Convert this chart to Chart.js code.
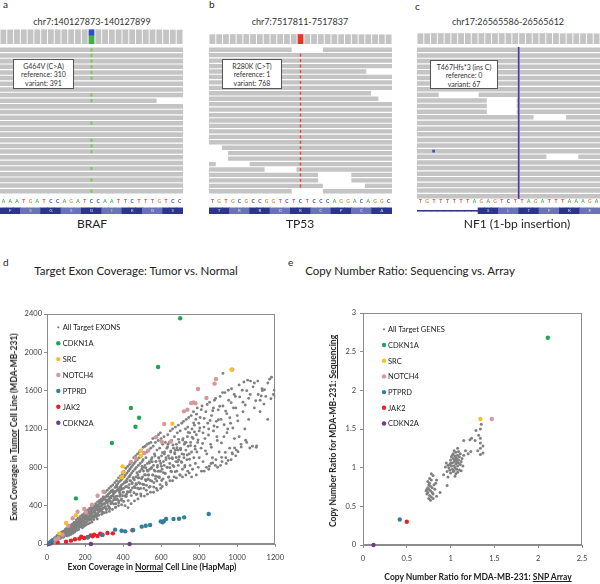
<!DOCTYPE html>
<html>
<head>
<meta charset="utf-8">
<script src="https://cdn.jsdelivr.net/npm/chart.js@4.4.0/dist/chart.umd.min.js"></script>
<style>
  body { margin: 0; width: 600px; height: 584px; position: relative; background: #fff; overflow: hidden;
         font-family: Lato, "Open Sans", sans-serif; color: #222; }
  canvas { position: absolute; display: block; }
  .txt { position: absolute; white-space: nowrap; transform: translate(-50%, -50%); }
  .letter { position: absolute; font-size: 10px; }
  .chr { font-size: 9px; color: #333; }
  .gene { font-size: 12px; }
  .callout { position: absolute; background: #fff; border: 1px solid #555; box-sizing: border-box;
             font-size: 7px; line-height: 8.6px; text-align: center; padding-top: 1.5px; color: #333; }
  .ptitle { font-size: 11.5px; }
  .axt { font-size: 8.5px; font-weight: bold; }
  .rot { transform: translate(-50%, -50%) rotate(-90deg); }
</style>
</head>
<body>

<div class="letter" style="left:3px;top:-2px">a</div>
<div class="letter" style="left:209px;top:-2px">b</div>
<div class="letter" style="left:415px;top:0px">c</div>
<div class="txt chr" style="left:92px;top:21px">chr7:140127873-140127899</div>
<div class="txt chr" style="left:300px;top:21px">chr7:7517811-7517837</div>
<div class="txt chr" style="left:508px;top:21px">chr17:26565586-26565612</div>

<canvas id="covA" width="183" height="15" style="left:0;top:29px"></canvas>
<canvas id="covB" width="183" height="10" style="left:209px;top:34px"></canvas>
<canvas id="covC" width="183" height="11" style="left:417px;top:33px"></canvas>
<canvas id="readsA" width="183" height="147" style="left:0;top:47px"></canvas>
<canvas id="readsB" width="183" height="147" style="left:209px;top:47px"></canvas>
<canvas id="readsC" width="183" height="152" style="left:417px;top:47px"></canvas>
<canvas id="aaA" width="183" height="18" style="left:0;top:196px"></canvas>
<canvas id="aaB" width="183" height="18" style="left:209px;top:196px"></canvas>
<canvas id="aaC" width="183" height="18" style="left:417px;top:196px"></canvas>

<div class="callout" style="left:13px;top:59px;width:61px;height:30px">G464V (C&gt;A)<br>reference: 310<br>variant: 391</div>
<div class="callout" style="left:222px;top:59px;width:60px;height:30px">R280K (C&gt;T)<br>reference: 1<br>variant: 768</div>
<div class="callout" style="left:430px;top:60px;width:68px;height:29px">T467Hfs*3 (ins C)<br>reference: 0<br>variant: 67</div>

<div class="txt gene" style="left:92px;top:223px">BRAF</div>
<div class="txt gene" style="left:300px;top:223px">TP53</div>
<div class="txt gene" style="left:517px;top:223px">NF1 (1-bp insertion)</div>

<div class="letter" style="left:3px;top:256px">d</div>
<div class="letter" style="left:288px;top:256px">e</div>
<div class="txt ptitle" style="left:136px;top:270px">Target Exon Coverage: Tumor vs. Normal</div>
<div class="txt ptitle" style="left:410px;top:270px">Copy Number Ratio: Sequencing vs. Array</div>

<canvas id="chartD" width="290" height="284" style="left:0;top:300px"></canvas>
<canvas id="chartE" width="310" height="284" style="left:290px;top:300px"></canvas>

<div class="txt axt" style="left:152px;top:567px">Exon Coverage in <u>Normal</u> Cell Line (HapMap)</div>
<div class="txt axt rot" style="left:14px;top:427px">Exon Coverage in <u>Tumor</u> Cell Line (MDA-MB-231)</div>
<div class="txt axt" style="left:478px;top:577px">Copy Number Ratio for MDA-MB-231: <u>SNP Array</u></div>
<div class="txt axt rot" style="left:333px;top:431px">Copy Number Ratio for MDA-MB-231: <u>Sequencing</u></div>

<script>
// ---------- panels a-c : read pileups, 27 bp windows ----------
const seqA = 'AAATGATCCAGATCCAATTCTTTGTCC'.split('');
const seqB = 'TGTGCGCCGGTCTCTCCCAGGACAGGC'.split('');
const seqC = 'TGTTTTTTAGAGTCTTAGATTTAAAGA'.split('');

const aminoA = ['F', 'S', 'G', 'S', 'G', 'I', 'K', 'G', 'S'];
const aminoB = ['T', 'R', 'R', 'D', 'R', 'C', 'P', 'C', 'A'];
const aminoC = ['S', 'L', 'T', 'F', 'K', 'E'];
const exonStartC = 9;

const coverA = [690, 694, 697, 699, 700, 698, 701, 703, 700, 702, 704, 700, 699, 0, 701, 700, 698, 697, 699, 700, 696, 694, 697, 693, 690, 688, 685];
const coverB = [755, 760, 762, 765, 766, 768, 767, 769, 770, 768, 769, 770, 769, 0, 768, 767, 765, 766, 762, 760, 761, 758, 755, 752, 750, 746, 742];
const coverC = [66, 66, 67, 67, 67, 67, 67, 67, 67, 67, 67, 67, 67, 67, 67, 67, 67, 67, 67, 67, 67, 66, 66, 66, 66, 66, 65];
const variantA = { index: 13, alt: 391, ref: 310 };
const variantB = { index: 13, alt: 768, ref: 1 };

// reads: first and second segment on each row
const readsA = [[0, 27], [0, 27], [0, 27], [0, 27], [0, 27], [0, 27], [0, 27], [0, 27], [0, 27], [0, 23.1],
  [0, 27], [0, 27], [0, 27], [0, 27], [0, 27], [0, 27], [0, 27], [0, 27], [0, 27], [0, 27],
  [0, 27], [0, 27], [0, 27], [0, 27], [0, 27], [0, 27]];
const altRowsA = [0, 1, 2, 3, 4, 5, 8, 9, 13, 16, 17, 18, 21, 23, 25];

const readsB = [[0, 12.2], [0, 27], [0, 27], [0, 27], [0, 23.2], [0, 27], [0, 27], [0, 27], [0, 23.9], [0, 25],
  [0, 27], [0, 27], [0, 27], [0, 27], [0, 27], [0, 27], [0, 27], [0, 27], [1.9, 27], [2.8, 27],
  [2.8, 27], [0, 1], [0, 8.2], [0, 16.1], [0, 16.1], [0, 16.8], [0, 12.2]];
const readsB2 = [[16.8, 27], null, null, null, null, null, null, null, null, null,
  null, null, null, null, null, null, null, null, null, null,
  null, [6, 27], [12.9, 27], [21, 27], [21, 27], [23, 27], [16.8, 27]];
const altRowsB = [1, 2, 3, 4, 5, 6, 7, 8, 9, 10, 11, 12, 13, 14, 15, 16, 17, 18, 19, 20, 21, 22, 23, 24, 25];

const readsC = [[0, 27], [0, 27], [0, 27], [0, 27], [0, 27], [0, 27], [0, 27], [0, 27], [0, 3.2], [0, 10.3],
  [0, 10.3], [0, 10.3], [0, 17.2], [0, 27], [0, 27], [0, 27], [0, 27], [0, 27], [0, 27], [0, 19.1],
  [0, 27], [0, 27], [0, 27], [0, 27], [0, 27], [0, 27], [0, 27]];
const readsC2 = [null, null, null, null, null, null, null, null, [9.1, 27], [14.7, 27],
  [14.7, 27], [14.7, 27], [22, 27], null, null, null, null, null, null, [23.8, 27],
  null, null, null, null, null, null, null];
const insertPosC = 15;
const mismatchC = { row: 18, pos: 2.45 };

// ---------- panel d : exon coverage (normal, tumor) ----------
const exonAll = [
  [5,6],[8,12],[10,9],[12,18],[15,14],[18,25],[20,20],[22,30],[25,22],[28,35],[30,28],[32,44],[35,38],[38,30],[40,52],[42,46],[45,40],[48,60],[50,55],[14,8],[24,16],[34,26],[44,34],[36,50],[26,40],[16,28],[46,70],[30,48],[20,34],[40,62],
  [52,62],[55,70],[58,50],[60,78],[62,66],[65,85],[68,72],[70,95],[72,60],[75,88],[78,100],[80,82],[82,110],[85,96],[88,76],[90,120],[92,104],[95,88],[98,130],[100,112],[54,88],[64,100],[74,118],[84,130],[94,145],[66,56],[86,70],[96,100],[76,76],[56,44],
  [102,140],[105,120],[108,98],[110,150],[112,132],[115,110],[118,160],[120,140],[122,118],[125,175],[128,150],[130,128],[132,185],[135,160],[138,135],[140,195],[142,170],[145,145],[148,205],[150,180],[104,165],[114,180],[124,195],[134,210],[144,225],[116,92],[136,112],[146,125],[126,100],[106,84],
  [152,155],[155,215],[158,190],[160,165],[162,230],[165,200],[168,172],[170,245],[172,212],[175,180],[178,255],[180,222],[182,190],[185,265],[188,232],[190,200],[192,280],[195,245],[198,210],[200,290],[154,250],[164,270],[174,285],[184,300],[194,315],[166,150],[186,170],[196,185],[176,235],[156,140],
  [202,260],[205,225],[208,305],[210,275],[212,240],[215,320],[218,285],[220,250],[222,335],[225,300],[228,262],[230,345],[232,310],[235,275],[238,360],[240,325],[242,290],[245,375],[248,340],[250,300],[204,340],[214,355],[224,370],[234,385],[244,400],[216,210],[236,230],[246,255],[226,220],[206,200],
  [252,330],[255,380],[258,355],[260,310],[262,400],[265,365],[268,325],[270,410],[272,380],[275,340],[278,425],[280,390],[282,350],[285,440],[288,400],[290,360],[292,455],[295,415],[298,375],[300,470],[256,420],[266,440],[276,455],[286,470],[296,490],[258,280],[272,300],[288,310],[296,330],[264,260],
  [302,420],[305,390],[308,490],[310,440],[312,360],[315,505],[318,455],[320,400],[322,520],[325,470],[328,380],[330,535],[332,485],[335,420],[338,550],[340,500],[342,440],[345,565],[348,515],[350,460],[306,540],[316,560],[326,580],[336,600],[346,615],[312,330],[328,340],[344,360],[336,480],[320,445],
  [352,530],[355,480],[358,590],[360,545],[362,420],[365,610],[368,560],[370,500],[372,630],[375,575],[378,450],[380,650],[382,590],[385,520],[388,665],[390,610],[392,470],[395,680],[398,625],[400,540],[356,640],[366,660],[376,690],[386,710],[396,730],[360,380],[376,400],[392,410],[384,560],[368,470],
  [402,580],[405,700],[408,640],[410,500],[412,720],[415,660],[418,600],[420,740],[422,680],[425,540],[428,760],[430,700],[432,620],[435,780],[438,720],[440,560],[442,800],[445,740],[448,640],[450,820],[404,760],[414,790],[424,810],[434,830],[444,850],[410,400],[426,380],[442,420],[436,660],[418,520],
  [452,760],[455,680],[458,840],[460,600],[462,780],[465,860],[468,700],[470,800],[472,520],[475,880],[478,720],[480,820],[482,640],[485,900],[488,760],[490,840],[492,580],[495,920],[498,780],[500,860],[456,900],[466,920],[476,940],[486,960],[496,980],[460,450],[478,470],[494,500],[484,690],[470,620],
  [502,700],[505,880],[508,800],[510,620],[512,940],[515,820],[518,720],[520,900],[522,560],[525,960],[528,840],[530,760],[532,680],[535,980],[538,860],[540,780],[542,600],[545,1000],[548,880],[550,800],[506,1010],[516,1020],[526,1040],[536,1050],[546,1060],[512,500],[528,520],[544,540],[534,720],[520,660],
  [552,900],[555,720],[558,1020],[560,820],[562,640],[565,940],[568,760],[570,1060],[572,860],[575,580],[578,980],[580,800],[582,700],[585,1080],[588,900],[590,760],[592,1000],[595,620],[598,840],[600,1100],[556,1100],[566,1110],[576,1120],[586,1140],[596,1160],[560,540],[580,560],[598,580],[590,700],[570,680],
  [602,920],[605,780],[608,1040],[610,680],[612,860],[615,1120],[618,960],[620,740],[622,1060],[625,880],[628,620],[630,1000],[632,800],[635,1140],[638,920],[640,700],[642,1060],[645,840],[648,1180],[650,960],[606,600],[626,640],[646,660],[636,1040],[616,820],
  [652,760],[655,1080],[658,900],[660,1200],[662,820],[665,1000],[668,700],[670,1120],[672,940],[675,1220],[678,860],[680,1040],[682,760],[685,1160],[688,980],[690,1240],[692,880],[695,1060],[698,720],[700,1180],[660,660],[680,690],[700,720],[675,980],[690,820],
  [702,1000],[705,860],[708,1260],[710,940],[712,780],[715,1100],[718,1280],[720,900],[722,1040],[725,820],[728,1200],[730,980],[732,1300],[735,880],[738,1120],[740,760],[742,1020],[745,1320],[748,940],[750,1160],[712,700],[730,720],[748,740],[725,1060],[740,1220],
  [752,820],[755,1060],[758,1340],[760,960],[762,1200],[765,780],[768,1100],[770,1380],[772,900],[775,1240],[778,1020],[780,840],[782,1300],[785,1140],[788,960],[790,1420],[792,1060],[795,800],[798,1260],[800,1180],[760,700],[785,720],[800,900],[775,1170],
  [805,1320],[810,1000],[815,1440],[820,860],[825,1220],[830,1100],[835,1380],[840,940],[845,1260],[850,780],[855,1480],[860,1040],[865,1340],[870,900],[875,1180],[880,1500],[885,820],[890,1280],[895,1080],[900,1400],[812,760],[838,800],[862,840],[888,880],[820,1160],[850,1200],[875,1420],[895,1220],
  [905,960],[910,1540],[915,1300],[920,860],[925,1440],[930,1120],[935,1580],[940,900],[945,1360],[950,1200],[955,1500],[960,1000],[965,1260],[970,1620],[975,940],[980,1420],[985,1100],[990,1540],[995,980],[1000,1340],[912,820],[942,840],[968,880],[992,920],[925,1780],
  [1010,1660],[1020,1040],[1030,1480],[1040,1200],[1050,1600],[1060,1300],[1070,1700],[1080,1020],[1090,1420],[1100,1010],[1110,1560],[1120,1500],[1130,1620],[1140,1460],[1150,1540],[1160,1300],[1170,1720],[1180,1740],[1190,1560],[1200,1540],[1030,1380],[1060,1520],[1090,1680],[1120,1380],[1010,1120],[1050,1060],[1035,1690],[1132,1600],
  [6,8],[11,17],[13,15],[17,24],[23,29],[26,42],[29,32],[33,46],[37,46],[41,61],[43,49],[47,63],[52,81],[55,67],[58,82],[63,71],[66,88],[69,101],[73,91],[77,122],
  [79,103],[83,126],[86,101],[89,128],[93,118],[97,155],[99,108],[103,143],[107,132],[111,165],[113,130],[117,158],[121,189],[123,149],[127,180],[131,147],[134,178],[137,201],[141,176],[143,226],
  [147,193],[151,230],[153,181],[157,226],[161,204],[163,261],[167,182],[171,238],[173,213],[177,264],[181,208],[183,247],[187,292],[191,231],[193,274],[197,221],[201,267],[203,298],[207,259],[211,333],
  [213,279],[217,330],[219,258],[223,321],[227,288],[229,366],[233,254],[237,329],[239,294],[243,362],[247,284],[249,336],[253,395],[257,311],[259,368],[263,295],[267,355],[269,395],[273,341],[277,438],
  [279,365],[283,430],[287,339],[289,416],[293,372],[297,475],[299,326],[303,421],[307,378],[309,460],[313,360],[317,428],[319,498],[323,391],[327,464],[329,368],[333,443],[337,495],[339,424],[343,542],
  [347,500],[351,418],[353,547],[357,461],[361,383],[363,497],[367,595],[371,460],[373,560],[377,430],[381,537],[383,498],[387,592],[391,457],[393,574],[397,504],[401,541],[403,443],[407,639],[411,501],
  [413,595],[417,496],[419,649],[423,546],[427,453],[429,588],[433,701],[437,542],[439,659],[443,505],[447,630],[449,584],[453,693],[457,535],[459,670],[463,588],[467,630],[469,516],[473,743],[477,582],
  [479,690],[483,575],[487,755],[489,631],[493,523],[497,681],[499,808],[503,624],[507,761],[509,580],[513,723],[517,672],[519,794],[523,612],[527,769],[529,672],[533,720],[537,591],[539,846],[543,662],
  [547,788],[551,656],[553,857],[557,719],[561,595],[563,771],[567,919],[571,708],[573,860],[577,658],[581,819],[583,758],[587,898],[591,691],[593,866],[597,758],[601,811],[603,663],[607,953],[611,745],
  [617,938],[622,734],[626,901],[631,801],[634,1014],[639,697],[643,894],[646,795],[651,970],[655,753],[659,890],[662,1033],[667,807],[671,953],[674,755],[679,903],[683,1004],[686,858],[691,1092],[695,910],
  [702,983],[708,850],[713,1084],[719,935],[724,804],[731,1060],[737,929],[742,1165],[749,884],[755,1027],
  [763,1115],[771,1262],[779,990],[786,1355],[794,1087],[803,1211],[811,1402],[818,1048],[826,1310],[833,972],[842,1455],[849,1137],[857,1288],[864,1010],[871,1390],[878,1231],[886,1518],[893,1120],[901,1296],[908,1437],
  [917,1055],[923,1580],[931,1245],[939,1387],[946,1162],[953,1604],[961,1318],[968,1475],[977,1210],[984,1560],[992,1420],[1003,1285],[1013,1535],[1026,1605],[1042,1450],[1055,1710],[1068,1560],[1083,1640],[1097,1495],[1108,1700],
  [1126,1545],[1143,1610],[1161,1680],[1177,1515],[1195,1605],
  [826,760],[853,812],[871,845],[897,801],[918,904],[937,956],[952,871],[973,950],[986,1003],[1004,962],[1021,1011],[1044,1083],[1066,1002],[1102,1024]
];
const exonCDKN1A = [[700,2355],[584,1847],[441,1419],[484,1318],[465,1224],[341,1054],[152,476]];
const exonSRC = [[969,1819],[659,1256],[493,974],[493,920],[397,810],[400,750],[392,696],[152,300],[100,219],[65,111]];
const exonNOTCH4 = [[974,1820],[888,1722],[881,1673],[794,1617],[838,1523],[770,1478],[758,1470],[780,1468],[738,1402],[720,1384],[616,1252],[572,1113],[603,1068],[650,1068],[532,974],[510,950],[467,894],[441,856],[297,546],[266,504],[236,410],[196,365],[205,330],[161,337],[135,268],[112,191],[82,97],[60,60],[45,45]];
const exonPTPRD = [[850,313],[721,278],[694,264],[665,261],[626,261],[615,240],[608,226],[598,236],[542,198],[519,191],[498,181],[453,146],[411,132],[392,139],[358,150],[290,95],[215,70],[30,35],[12,10]];
const exonJAK2 = [[449,143],[346,111],[318,115],[292,97],[266,83],[240,80],[213,70],[196,63],[170,56],[147,49],[126,35],[100,24],[56,17],[21,7],[248,97],[230,90],[180,76],[280,108]];
const exonCDKN2A = [[10,0],[231,0],[434,0]];
const coverageRangeX = [0, 1200, 200];
const coverageRangeY = [0, 2400, 400];

// ---------- panel e : copy number ratio (array, sequencing) ----------
const cnAll = [
  [0.72,0.70],[0.73,0.66],[0.74,0.74],[0.74,0.68],[0.75,0.78],[0.75,0.72],[0.76,0.64],[0.76,0.80],[0.77,0.70],[0.77,0.76],[0.78,0.62],[0.78,0.84],[0.78,0.92],[0.79,0.68],[0.79,0.74],[0.80,0.90],[0.80,0.60],[0.81,0.78],[0.76,0.86],[0.75,0.60],[0.73,0.72],[0.77,0.58],[0.82,0.72],[0.83,0.80],[0.84,0.84],[0.84,0.63],[0.88,0.68],[0.96,0.77],[0.80,0.66],[0.74,0.82],
  [0.92,0.91],[0.94,1.01],[0.95,1.06],[0.96,0.95],[0.97,0.88],[0.98,1.00],[0.99,1.04],[0.99,0.97],[1.00,1.10],[1.00,0.93],[1.01,1.02],[1.01,1.14],[1.02,1.06],[1.02,0.98],[1.03,1.12],[1.03,1.18],[1.03,0.95],[1.04,1.08],[1.04,1.02],[1.04,1.22],[1.05,1.15],[1.05,1.00],[1.05,1.10],[1.06,1.05],[1.06,1.20],[1.06,0.92],[1.07,1.12],[1.07,1.08],[1.07,0.98],[1.08,1.16],[1.08,1.02],[1.08,1.25],[1.09,1.10],[1.09,1.06],[1.10,1.14],[1.10,0.97],[1.11,1.04],[1.11,1.18],[1.12,1.08],[1.12,0.96],[1.13,1.12],[1.14,1.02],[1.05,0.89],[1.02,1.16],[1.06,1.13],[1.04,0.96],[1.08,0.94],[1.00,1.06],[0.97,1.03],[1.09,1.21],
  [1.15,1.35],[1.17,1.22],[1.15,1.16],[1.22,1.36],[1.24,1.38],[1.23,1.21],[1.29,1.48],[1.32,1.42],[1.34,1.38],[1.34,1.32],[1.34,1.50],[1.35,1.56],[1.37,1.28],[1.34,1.25],[1.31,1.22],[1.37,1.19],[1.34,1.17],[1.20,1.18],[1.28,1.35]
];
const cnCDKN1A = [[2.11,2.68]];
const cnSRC = [[1.34,1.63]];
const cnNOTCH4 = [[1.47,1.63]];
const cnPTPRD = [[0.42,0.33]];
const cnJAK2 = [[0.50,0.30]];
const cnCDKN2A = [[0.12,0.0]];
const ratioRangeX = [0, 2.5, 0.5];
const ratioRangeY = [0, 3, 0.5];

// ---------- shared styling ----------
const READ_GRAY = '#c4c4c4';
const AA_DARK = '#2b3590';
const AA_LIGHT = '#6a73b8';
const BASE_COLORS = { A: '#47ad4a', C: '#3048b4', G: '#d0913a', T: '#de5048' };
const GENE_COLORS = { CDKN1A: '#1fa556', SRC: '#f6c02c', NOTCH4: '#d6989b', PTPRD: '#317f99', JAK2: '#e3222b', CDKN2A: '#6b3d8e' };
const AXIS_GRAY = '#8c8c8c';

Chart.defaults.font.family = 'Lato, "Open Sans", sans-serif';
Chart.defaults.animation = false;
Chart.defaults.responsive = false;
Chart.defaults.events = [];
Chart.defaults.plugins.legend.display = false;
Chart.defaults.plugins.tooltip.enabled = false;

function coverageTrack(id, cover, variant, altColor, refColor, max) {
  const sets = [{ data: cover, backgroundColor: READ_GRAY }];
  if (variant) {
    sets.push({ data: cover.map((_, i) => i === variant.index ? variant.alt : null), backgroundColor: altColor });
    sets.push({ data: cover.map((_, i) => i === variant.index ? variant.ref : null), backgroundColor: refColor });
  }
  new Chart(document.getElementById(id), {
    type: 'bar',
    data: { labels: cover.map((_, i) => i), datasets: sets },
    options: {
      datasets: { bar: { barPercentage: 1, categoryPercentage: 0.86 } },
      scales: {
        x: { display: false, stacked: true },
        y: { display: false, stacked: true, min: 0, max: max }
      }
    }
  });
}

// reads as floating horizontal bars, one row per category
function pileup(id, reads, reads2, marks) {
  const sets = marks.map(m => ({
    data: reads.map((_, r) => m.rows.includes(r) ? [m.from, m.to] : null),
    backgroundColor: m.color, barPercentage: m.thick, categoryPercentage: 1, grouped: false, order: 0
  }));
  sets.push({ data: reads, backgroundColor: READ_GRAY, barPercentage: 0.8, categoryPercentage: 1, grouped: false, order: 1 });
  if (reads2) sets.push({ data: reads2, backgroundColor: READ_GRAY, barPercentage: 0.8, categoryPercentage: 1, grouped: false, order: 1 });
  new Chart(document.getElementById(id), {
    type: 'bar',
    data: { labels: reads.map((_, i) => i), datasets: sets },
    options: {
      indexAxis: 'y',
      scales: {
        x: { type: 'linear', min: 0, max: 27, display: false },
        y: { display: false }
      }
    }
  });
}

// reference bases above the bar, amino acid letters inside it
const sequenceLabels = {
  id: 'sequenceLabels',
  afterDatasetsDraw(chart, args, opts) {
    const meta = chart.getDatasetMeta(0);
    const ctx = chart.ctx;
    const xs = chart.scales.x;
    ctx.save();
    ctx.textAlign = 'center';
    ctx.textBaseline = 'middle';
    ctx.font = 'bold 5px Lato, sans-serif';
    opts.seq.forEach((b, i) => {
      ctx.fillStyle = BASE_COLORS[b];
      ctx.fillText(b, xs.getPixelForValue(i), chart.chartArea.top - 4.5);
    });
    ctx.font = '4.5px Lato, sans-serif';
    ctx.fillStyle = '#d9ddf2';
    opts.codons.forEach((aa, k) => {
      const bar = meta.data[opts.start + 3 * k + 1];
      ctx.fillText(aa, bar.x, (bar.y + bar.base) / 2);
    });
    ctx.restore();
  }
};

function aminoTrack(id, seq, codons, start) {
  new Chart(document.getElementById(id), {
    type: 'bar',
    data: {
      labels: seq,
      datasets: [{
        data: seq.map((_, i) => i < start ? [0.45, 0.6] : [0, 1]),
        backgroundColor: seq.map((_, i) => i < start ? AA_DARK : (Math.floor((i - start) / 3) % 2 ? AA_LIGHT : AA_DARK)),
        barPercentage: 1, categoryPercentage: 1
      }]
    },
    options: {
      layout: { padding: { top: 10 } },
      plugins: { sequenceLabels: { seq, codons, start } },
      scales: {
        x: { display: false },
        y: { display: false, min: 0, max: 1.3 }
      }
    },
    plugins: [sequenceLabels]
  });
}

coverageTrack('covA', coverA, variantA, '#3fb23f', '#2f4fc0', 720);
coverageTrack('covB', coverB, variantB, '#e8352a', '#2f4fc0', 780);
coverageTrack('covC', coverC, null, null, null, 68);

pileup('readsA', readsA, null, [{ rows: altRowsA, from: 13.35, to: 13.65, color: '#7dc75a', thick: 0.55 }]);
pileup('readsB', readsB, readsB2, [{ rows: altRowsB, from: 13.4, to: 13.6, color: '#e8453a', thick: 0.55 }]);
pileup('readsC', readsC, readsC2, [
  { rows: readsC.map((_, i) => i), from: insertPosC - 0.07, to: insertPosC + 0.07, color: '#4b3ba8', thick: 1 },
  { rows: [mismatchC.row], from: mismatchC.pos - 0.2, to: mismatchC.pos + 0.2, color: '#3a55c8', thick: 0.5 }
]);

aminoTrack('aaA', seqA, aminoA, 0);
aminoTrack('aaB', seqB, aminoB, 0);
aminoTrack('aaC', seqC, aminoC, exonStartC);

// ---------- scatter panels ----------
const plotFrame = {
  id: 'plotFrame',
  beforeDatasetsDraw(chart) {
    const { ctx, chartArea: a } = chart;
    ctx.save();
    ctx.strokeStyle = AXIS_GRAY;
    ctx.lineWidth = 1;
    ctx.strokeRect(Math.round(a.left) + 0.5, Math.round(a.top) + 0.5, Math.round(a.width) - 1, Math.round(a.height) - 1);
    ctx.restore();
  }
};

const insideLegend = {
  id: 'insideLegend',
  afterDatasetsDraw(chart, args, opts) {
    const { ctx, chartArea } = chart;
    ctx.save();
    ctx.font = opts.font;
    ctx.textBaseline = 'middle';
    chart.data.datasets.forEach((ds, i) => {
      const y = chartArea.top + opts.top + i * opts.step;
      ctx.beginPath();
      ctx.arc(chartArea.left + opts.mx, y, ds.legendRadius, 0, Math.PI * 2);
      ctx.fillStyle = ds.backgroundColor;
      ctx.fill();
      ctx.fillStyle = '#222';
      ctx.fillText(ds.label, chartArea.left + opts.tx, y + 0.5);
    });
    ctx.restore();
  }
};

function geneSet(label, data, r) {
  return { label, data, backgroundColor: GENE_COLORS[label], borderWidth: 0, pointRadius: r, legendRadius: 2.2, order: 0, clip: false };
}

function scatterPanel(id, allLabel, all, genes, axes, legendPos, grayRadius) {
  const sets = [{ label: allLabel, data: all, backgroundColor: '#808080', borderWidth: 0, pointRadius: grayRadius, legendRadius: 1.1, order: 1 }];
  genes.forEach(g => sets.push(geneSet(g[0], g[1], 2.2)));
  const tickFont = { size: 7.5 };
  new Chart(document.getElementById(id), {
    type: 'scatter',
    data: { datasets: sets },
    options: {
      layout: { padding: axes.padding },
      plugins: { insideLegend: legendPos },
      scales: {
        x: {
          min: axes.x[0], max: axes.x[1],
          border: { color: AXIS_GRAY },
          grid: { drawOnChartArea: false, tickLength: 3, color: AXIS_GRAY },
          ticks: { stepSize: axes.x[2], padding: 6, font: tickFont, color: '#404040', maxRotation: 0, callback: v => String(v) },
          afterFit: s => { s.height = axes.xh; }
        },
        y: {
          min: axes.y[0], max: axes.y[1],
          border: { color: AXIS_GRAY },
          grid: { drawOnChartArea: false, tickLength: 3, color: AXIS_GRAY },
          ticks: { stepSize: axes.y[2], padding: axes.ypad, font: tickFont, color: '#404040', callback: v => String(v) },
          afterFit: s => { s.width = axes.yw; }
        }
      }
    },
    plugins: [plotFrame, insideLegend]
  });
}

scatterPanel('chartD', 'All Target EXONS', exonAll, [
  ['CDKN1A', exonCDKN1A], ['SRC', exonSRC], ['NOTCH4', exonNOTCH4],
  ['PTPRD', exonPTPRD], ['JAK2', exonJAK2], ['CDKN2A', exonCDKN2A]
], {
  x: coverageRangeX, y: coverageRangeY,
  padding: { top: 14, right: 14, left: 0, bottom: 0 }, xh: 40, yw: 47, ypad: 2
}, { font: '7.5px Lato, sans-serif', top: 13.3, step: 15.9, mx: 11.3, tx: 15.7 }, 1.45);

scatterPanel('chartE', 'All Target GENES', cnAll, [
  ['CDKN1A', cnCDKN1A], ['SRC', cnSRC], ['NOTCH4', cnNOTCH4],
  ['PTPRD', cnPTPRD], ['JAK2', cnJAK2], ['CDKN2A', cnCDKN2A]
], {
  x: ratioRangeX, y: ratioRangeY,
  padding: { top: 13, right: 18, left: 0, bottom: 0 }, xh: 39, yw: 73, ypad: 4
}, { font: '7.5px Lato, sans-serif', top: 16.3, step: 15.7, mx: 21, tx: 25 }, 1.5);
</script>
</body>
</html>
